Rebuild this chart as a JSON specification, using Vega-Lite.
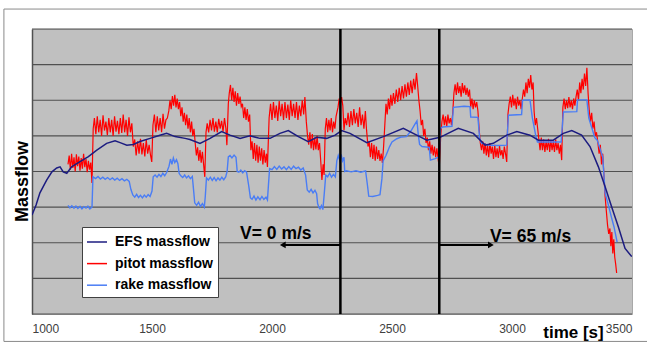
{
  "$schema": "https://vega.github.io/schema/vega-lite/v6.json",
  "width": 600,
  "height": 285,
  "autosize": {"type": "none"},
  "padding": {"left": 32, "top": 29, "right": 15, "bottom": 29},
  "background": "#ffffff",
  "config": {
    "view": {"fill": "#c0c0c0", "stroke": "#a8a8a8", "strokeWidth": 1},
    "font": "Liberation Sans"
  },
  "datasets": {
    "efs": [
      {"t":1000,"m":2.78},{"t":1017,"m":3.06},{"t":1033,"m":3.40},{"t":1061,"m":3.76},{"t":1083,"m":3.99},{"t":1103,"m":4.10},{"t":1117,"m":4.13},{"t":1130,"m":3.99},{"t":1145,"m":3.95},{"t":1165,"m":4.13},{"t":1200,"m":4.28},{"t":1235,"m":4.42},{"t":1270,"m":4.60},{"t":1311,"m":4.79},{"t":1346,"m":4.86},{"t":1367,"m":4.81},{"t":1395,"m":4.74},{"t":1422,"m":4.76},{"t":1450,"m":4.84},{"t":1492,"m":4.93},{"t":1533,"m":5.02},{"t":1561,"m":5.07},{"t":1596,"m":4.98},{"t":1638,"m":4.93},{"t":1658,"m":4.90},{"t":1700,"m":4.79},{"t":1742,"m":4.93},{"t":1790,"m":5.12},{"t":1825,"m":5.02},{"t":1867,"m":4.93},{"t":1908,"m":5.00},{"t":1950,"m":4.93},{"t":1992,"m":4.93},{"t":2033,"m":5.07},{"t":2068,"m":5.15},{"t":2110,"m":4.98},{"t":2151,"m":4.84},{"t":2186,"m":4.96},{"t":2228,"m":4.93},{"t":2263,"m":5.02},{"t":2290,"m":5.15},{"t":2325,"m":5.07},{"t":2395,"m":4.81},{"t":2464,"m":4.98},{"t":2547,"m":5.21},{"t":2603,"m":5.02},{"t":2645,"m":4.88},{"t":2700,"m":4.96},{"t":2776,"m":5.21},{"t":2839,"m":5.07},{"t":2888,"m":4.74},{"t":2922,"m":4.79},{"t":2978,"m":5.02},{"t":3020,"m":5.12},{"t":3075,"m":5.02},{"t":3110,"m":4.88},{"t":3172,"m":4.88},{"t":3214,"m":5.07},{"t":3249,"m":5.15},{"t":3290,"m":5.02},{"t":3325,"m":4.70},{"t":3360,"m":4.13},{"t":3388,"m":3.57},{"t":3415,"m":3.01},{"t":3443,"m":2.45},{"t":3471,"m":1.84},{"t":3499,"m":1.61}
    ],
    "pitot": [
      {"t":1150,"m":4.2},{"t":1155,"m":4.45},{"t":1160,"m":4.05},{"t":1165,"m":4.5},{"t":1170,"m":4.1},{"t":1175,"m":4.4},{"t":1180,"m":4.0},{"t":1185,"m":4.48},{"t":1190,"m":4.15},{"t":1195,"m":4.42},{"t":1200,"m":4.02},{"t":1205,"m":4.38},{"t":1210,"m":4.08},{"t":1215,"m":4.5},{"t":1220,"m":4.12},{"t":1225,"m":4.35},{"t":1230,"m":3.98},{"t":1235,"m":4.3},{"t":1240,"m":4.05},{"t":1245,"m":4.25},{"t":1250,"m":3.68},
      {"t":1255,"m":5.2},{"t":1260,"m":5.5},{"t":1266,"m":5.05},{"t":1272,"m":5.55},{"t":1278,"m":5.1},{"t":1284,"m":5.45},{"t":1290,"m":5.0},{"t":1296,"m":5.58},{"t":1302,"m":5.15},{"t":1308,"m":5.4},{"t":1314,"m":5.02},{"t":1320,"m":5.5},{"t":1326,"m":5.1},{"t":1332,"m":5.45},{"t":1338,"m":5.0},{"t":1344,"m":5.55},{"t":1350,"m":5.12},{"t":1356,"m":5.42},{"t":1362,"m":5.05},{"t":1368,"m":5.5},{"t":1374,"m":5.08},{"t":1380,"m":5.6},{"t":1386,"m":5.1},{"t":1392,"m":5.45},{"t":1398,"m":5.0},{"t":1404,"m":5.52},{"t":1410,"m":5.1},{"t":1416,"m":5.35},
      {"t":1422,"m":4.7},{"t":1428,"m":4.9},{"t":1434,"m":4.45},{"t":1440,"m":4.85},{"t":1446,"m":4.5},{"t":1452,"m":4.92},{"t":1458,"m":4.48},{"t":1464,"m":4.8},{"t":1470,"m":4.42},{"t":1476,"m":4.88},{"t":1482,"m":4.5},{"t":1488,"m":4.75},{"t":1494,"m":4.45},{"t":1499,"m":4.27},
      {"t":1504,"m":5.3},{"t":1510,"m":5.6},{"t":1516,"m":5.1},{"t":1522,"m":5.55},{"t":1528,"m":5.15},{"t":1534,"m":5.5},{"t":1540,"m":5.1},{"t":1546,"m":5.62},{"t":1552,"m":5.2},{"t":1558,"m":5.45},{"t":1564,"m":5.5},
      {"t":1570,"m":5.7},{"t":1575,"m":6.0},{"t":1580,"m":5.75},{"t":1585,"m":6.12},{"t":1590,"m":5.85},{"t":1595,"m":6.15},{"t":1600,"m":5.8},{"t":1605,"m":6.05},{"t":1610,"m":5.75},{"t":1615,"m":5.95},
      {"t":1620,"m":5.55},{"t":1625,"m":5.8},{"t":1630,"m":5.4},{"t":1635,"m":5.65},{"t":1640,"m":5.3},{"t":1645,"m":5.6},{"t":1650,"m":5.2},{"t":1655,"m":5.5},{"t":1660,"m":5.1},{"t":1665,"m":5.4},{"t":1670,"m":5.0},{"t":1675,"m":5.2},
      {"t":1680,"m":4.8},{"t":1685,"m":4.45},{"t":1690,"m":4.68},{"t":1695,"m":4.3},{"t":1700,"m":4.6},{"t":1705,"m":4.25},{"t":1710,"m":4.55},{"t":1715,"m":4.2},{"t":1720,"m":3.85},
      {"t":1725,"m":5.1},{"t":1730,"m":5.35},{"t":1736,"m":5.1},{"t":1742,"m":5.45},{"t":1748,"m":5.15},{"t":1754,"m":5.5},{"t":1760,"m":5.12},{"t":1766,"m":5.4},{"t":1772,"m":5.1},{"t":1778,"m":5.48},{"t":1784,"m":5.2},{"t":1790,"m":5.42},{"t":1796,"m":5.12},{"t":1802,"m":5.5},{"t":1808,"m":5.2},{"t":1812,"m":4.74},
      {"t":1818,"m":5.9},{"t":1822,"m":6.2},{"t":1827,"m":6.43},{"t":1832,"m":6.0},{"t":1837,"m":6.35},{"t":1842,"m":5.95},{"t":1847,"m":6.25},{"t":1852,"m":5.85},{"t":1857,"m":6.2},{"t":1862,"m":5.9},{"t":1867,"m":6.1},{"t":1872,"m":5.82},
      {"t":1877,"m":5.9},{"t":1882,"m":5.5},{"t":1887,"m":5.8},{"t":1892,"m":5.45},{"t":1897,"m":5.75},{"t":1902,"m":5.4},{"t":1907,"m":5.6},
      {"t":1912,"m":4.6},{"t":1917,"m":4.85},{"t":1922,"m":4.35},{"t":1927,"m":4.8},{"t":1932,"m":4.3},{"t":1937,"m":4.75},{"t":1942,"m":4.25},{"t":1947,"m":4.7},{"t":1952,"m":4.3},{"t":1957,"m":4.65},{"t":1962,"m":4.2},{"t":1967,"m":4.6},{"t":1972,"m":4.25},{"t":1977,"m":4.5},{"t":1981,"m":4.13},
      {"t":1988,"m":5.5},{"t":1994,"m":5.9},{"t":2000,"m":5.45},{"t":2006,"m":5.95},{"t":2012,"m":5.5},{"t":2018,"m":5.85},{"t":2024,"m":5.42},{"t":2030,"m":5.98},{"t":2036,"m":5.55},{"t":2042,"m":5.9},{"t":2048,"m":5.45},{"t":2054,"m":5.95},{"t":2060,"m":5.5},{"t":2066,"m":5.88},{"t":2072,"m":5.45},{"t":2078,"m":6.0},{"t":2084,"m":5.55},{"t":2090,"m":5.9},{"t":2096,"m":5.5},{"t":2102,"m":5.95},{"t":2108,"m":5.45},{"t":2114,"m":5.85},{"t":2120,"m":5.55},{"t":2126,"m":6.0},{"t":2132,"m":5.6},{"t":2137,"m":6.09},
      {"t":2143,"m":5.4},{"t":2148,"m":5.0},{"t":2153,"m":4.75},{"t":2158,"m":5.1},{"t":2163,"m":4.65},{"t":2168,"m":5.05},{"t":2173,"m":4.6},{"t":2178,"m":4.95},{"t":2183,"m":4.62},{"t":2188,"m":5.0},{"t":2193,"m":4.6},{"t":2198,"m":4.8},
      {"t":2203,"m":4.3},{"t":2208,"m":3.76},{"t":2213,"m":4.2},{"t":2217,"m":3.9},
      {"t":2222,"m":5.2},{"t":2227,"m":5.5},{"t":2232,"m":5.1},{"t":2237,"m":5.45},{"t":2242,"m":5.15},{"t":2247,"m":5.5},{"t":2252,"m":5.1},{"t":2257,"m":5.4},{"t":2262,"m":5.2},{"t":2267,"m":5.55},
      {"t":2275,"m":5.8},{"t":2280,"m":6.05},{"t":2285,"m":5.9},{"t":2290,"m":6.09},{"t":2295,"m":5.85},{"t":2300,"m":5.16},
      {"t":2305,"m":5.5},{"t":2311,"m":5.3},{"t":2317,"m":5.65},{"t":2323,"m":5.25},{"t":2329,"m":5.7},{"t":2335,"m":5.3},{"t":2341,"m":5.75},{"t":2347,"m":5.35},{"t":2353,"m":5.65},{"t":2359,"m":5.25},{"t":2365,"m":5.8},{"t":2371,"m":5.3},{"t":2377,"m":5.6},{"t":2383,"m":5.2},{"t":2389,"m":5.7},{"t":2394,"m":5.16},
      {"t":2400,"m":4.7},{"t":2405,"m":4.85},{"t":2410,"m":4.4},{"t":2415,"m":4.8},{"t":2420,"m":4.35},{"t":2425,"m":4.75},{"t":2430,"m":4.3},{"t":2435,"m":4.7},{"t":2440,"m":4.35},{"t":2445,"m":4.6},{"t":2450,"m":4.3},{"t":2455,"m":4.5},{"t":2460,"m":4.24},
      {"t":2465,"m":4.7},{"t":2470,"m":5.3},{"t":2475,"m":5.9},{"t":2480,"m":5.6},{"t":2485,"m":6.05},{"t":2490,"m":5.75},{"t":2495,"m":6.15},{"t":2500,"m":5.85},{"t":2506,"m":6.2},{"t":2512,"m":5.9},{"t":2518,"m":6.3},{"t":2524,"m":5.95},{"t":2530,"m":6.35},{"t":2536,"m":6.0},{"t":2542,"m":6.4},{"t":2548,"m":6.05},{"t":2554,"m":6.45},{"t":2560,"m":6.1},{"t":2566,"m":6.5},{"t":2572,"m":6.15},{"t":2578,"m":6.55},{"t":2584,"m":6.2},{"t":2590,"m":6.6},{"t":2596,"m":6.3},{"t":2602,"m":6.76},{"t":2607,"m":6.4},
      {"t":2612,"m":6.0},{"t":2617,"m":5.7},{"t":2622,"m":5.3},{"t":2627,"m":5.45},{"t":2632,"m":5.0},{"t":2637,"m":5.2},{"t":2642,"m":4.8},{"t":2647,"m":4.95},{"t":2652,"m":4.6},{"t":2657,"m":4.85},{"t":2662,"m":4.5},{"t":2667,"m":4.75},{"t":2672,"m":4.45},{"t":2677,"m":4.7},{"t":2682,"m":4.4},{"t":2687,"m":4.65},{"t":2692,"m":4.35},{"t":2697,"m":4.13},
      {"t":2703,"m":5.0},{"t":2708,"m":5.4},{"t":2713,"m":5.6},{"t":2718,"m":5.3},{"t":2723,"m":5.55},{"t":2728,"m":5.25},{"t":2733,"m":5.6},{"t":2738,"m":5.35},{"t":2743,"m":5.5},{"t":2748,"m":5.3},{"t":2753,"m":5.64},
      {"t":2758,"m":6.2},{"t":2763,"m":6.45},{"t":2768,"m":6.15},{"t":2773,"m":6.5},{"t":2778,"m":6.2},{"t":2783,"m":6.4},{"t":2788,"m":6.1},{"t":2793,"m":6.48},{"t":2798,"m":6.2},{"t":2803,"m":6.42},{"t":2808,"m":6.15},{"t":2813,"m":6.35},{"t":2818,"m":6.1},{"t":2823,"m":6.3},
      {"t":2828,"m":5.8},{"t":2833,"m":6.05},{"t":2838,"m":5.75},{"t":2843,"m":6.0},{"t":2848,"m":5.8},{"t":2853,"m":5.95},{"t":2858,"m":5.7},
      {"t":2863,"m":5.2},{"t":2868,"m":4.8},{"t":2873,"m":4.6},{"t":2878,"m":4.85},{"t":2883,"m":4.5},
      {"t":2888,"m":4.8},{"t":2893,"m":4.45},{"t":2898,"m":4.75},{"t":2903,"m":4.4},{"t":2908,"m":4.8},{"t":2913,"m":4.5},{"t":2918,"m":4.7},{"t":2923,"m":4.35},{"t":2928,"m":4.75},{"t":2933,"m":4.4},{"t":2938,"m":4.65},{"t":2943,"m":4.38},{"t":2948,"m":4.72},{"t":2953,"m":4.45},{"t":2958,"m":4.6},{"t":2963,"m":4.35},{"t":2968,"m":4.7},{"t":2973,"m":4.5},{"t":2978,"m":4.27},
      {"t":2983,"m":5.6},{"t":2988,"m":5.9},{"t":2993,"m":6.1},{"t":2998,"m":5.8},{"t":3003,"m":6.15},{"t":3008,"m":5.85},{"t":3013,"m":6.05},{"t":3018,"m":5.75},{"t":3023,"m":6.1},{"t":3028,"m":5.85},{"t":3033,"m":6.0},{"t":3038,"m":5.75},{"t":3043,"m":6.05},
      {"t":3048,"m":6.3},{"t":3053,"m":6.1},{"t":3058,"m":6.5},{"t":3063,"m":6.2},{"t":3068,"m":6.6},{"t":3073,"m":6.35},{"t":3078,"m":6.71},{"t":3083,"m":6.3},{"t":3088,"m":6.5},
      {"t":3092,"m":5.7},{"t":3097,"m":5.3},{"t":3102,"m":5.5},{"t":3107,"m":5.2},
      {"t":3112,"m":4.9},{"t":3117,"m":4.6},{"t":3122,"m":4.95},{"t":3127,"m":4.6},{"t":3132,"m":4.9},{"t":3137,"m":4.55},{"t":3142,"m":4.85},{"t":3147,"m":4.6},{"t":3152,"m":4.92},{"t":3157,"m":4.55},{"t":3162,"m":4.88},{"t":3167,"m":4.6},{"t":3172,"m":4.85},{"t":3177,"m":4.55},{"t":3182,"m":4.9},{"t":3187,"m":4.6},{"t":3192,"m":4.8},{"t":3197,"m":4.5},{"t":3202,"m":4.75},{"t":3207,"m":4.32},
      {"t":3212,"m":5.8},{"t":3217,"m":6.05},{"t":3222,"m":5.75},{"t":3227,"m":6.0},{"t":3232,"m":5.78},{"t":3237,"m":6.09},{"t":3242,"m":5.8},{"t":3247,"m":6.0},{"t":3252,"m":5.75},{"t":3257,"m":6.05},{"t":3262,"m":5.85},{"t":3267,"m":6.1},
      {"t":3272,"m":6.3},{"t":3277,"m":6.0},{"t":3282,"m":6.5},{"t":3287,"m":6.2},{"t":3292,"m":6.6},{"t":3297,"m":6.3},{"t":3302,"m":6.75},{"t":3307,"m":6.4},{"t":3312,"m":6.91},
      {"t":3317,"m":6.2},{"t":3322,"m":5.7},{"t":3327,"m":5.4},{"t":3332,"m":5.65},{"t":3337,"m":5.2},{"t":3342,"m":5.4},{"t":3347,"m":5.0},{"t":3352,"m":5.1},
      {"t":3358,"m":4.8},{"t":3363,"m":4.5},{"t":3368,"m":4.75},{"t":3373,"m":4.2},{"t":3378,"m":4.5},
      {"t":3383,"m":3.9},{"t":3388,"m":3.3},{"t":3393,"m":2.9},{"t":3398,"m":2.5},{"t":3403,"m":2.25},{"t":3408,"m":2.4},
      {"t":3412,"m":1.9},{"t":3416,"m":2.3},{"t":3420,"m":1.7},{"t":3424,"m":2.1},{"t":3428,"m":1.6},{"t":3432,"m":1.4},{"t":3436,"m":1.15}
    ],
    "rake": [
      {"t":1150,"m":3.05},{"t":1158,"m":2.98},{"t":1166,"m":3.04},{"t":1175,"m":2.97},{"t":1183,"m":3.03},{"t":1191,"m":2.96},{"t":1200,"m":3.02},{"t":1208,"m":2.95},{"t":1216,"m":3.01},{"t":1225,"m":2.97},{"t":1233,"m":3.03},{"t":1241,"m":2.95},{"t":1250,"m":3.0},{"t":1254,"m":3.85},{"t":1265,"m":3.80},{"t":1275,"m":3.86},{"t":1285,"m":3.79},{"t":1295,"m":3.84},{"t":1305,"m":3.78},{"t":1315,"m":3.83},{"t":1325,"m":3.77},{"t":1335,"m":3.82},{"t":1345,"m":3.76},{"t":1355,"m":3.81},{"t":1365,"m":3.75},{"t":1375,"m":3.80},{"t":1385,"m":3.74},{"t":1395,"m":3.78},{"t":1405,"m":3.72},{"t":1412,"m":3.5},{"t":1420,"m":3.34},{"t":1428,"m":3.28},{"t":1436,"m":3.36},{"t":1444,"m":3.27},{"t":1452,"m":3.33},{"t":1460,"m":3.26},{"t":1468,"m":3.34},{"t":1476,"m":3.28},{"t":1484,"m":3.35},{"t":1492,"m":3.30},{"t":1500,"m":3.45},{"t":1505,"m":3.85},{"t":1513,"m":3.90},{"t":1521,"m":3.84},{"t":1529,"m":3.92},{"t":1537,"m":3.86},{"t":1545,"m":3.95},{"t":1553,"m":3.88},{"t":1561,"m":3.97},{"t":1571,"m":4.15},{"t":1577,"m":4.35},{"t":1583,"m":4.20},{"t":1589,"m":4.38},{"t":1595,"m":4.25},{"t":1602,"m":4.33},{"t":1608,"m":4.22},{"t":1613,"m":3.95},{"t":1620,"m":3.88},{"t":1628,"m":3.83},{"t":1636,"m":3.90},{"t":1644,"m":3.82},{"t":1652,"m":3.88},{"t":1660,"m":3.80},{"t":1668,"m":3.86},{"t":1673,"m":3.5},{"t":1678,"m":3.12},{"t":1686,"m":3.05},{"t":1694,"m":3.14},{"t":1702,"m":3.02},{"t":1710,"m":3.10},{"t":1718,"m":3.00},{"t":1722,"m":3.3},{"t":1727,"m":3.82},{"t":1735,"m":3.76},{"t":1743,"m":3.84},{"t":1751,"m":3.75},{"t":1759,"m":3.83},{"t":1767,"m":3.74},{"t":1775,"m":3.82},{"t":1783,"m":3.76},{"t":1791,"m":3.84},{"t":1799,"m":3.77},{"t":1807,"m":3.85},{"t":1813,"m":4.0},{"t":1818,"m":4.41},{"t":1825,"m":4.45},{"t":1833,"m":4.38},{"t":1842,"m":4.46},{"t":1850,"m":4.40},{"t":1855,"m":4.0},{"t":1862,"m":3.98},{"t":1870,"m":4.04},{"t":1878,"m":3.96},{"t":1886,"m":4.02},{"t":1894,"m":3.98},{"t":1903,"m":3.6},{"t":1910,"m":3.26},{"t":1917,"m":3.22},{"t":1925,"m":3.31},{"t":1933,"m":3.20},{"t":1941,"m":3.29},{"t":1950,"m":3.21},{"t":1958,"m":3.30},{"t":1966,"m":3.22},{"t":1975,"m":3.28},{"t":1981,"m":3.20},{"t":1985,"m":3.6},{"t":1990,"m":4.08},{"t":2000,"m":4.05},{"t":2010,"m":4.14},{"t":2020,"m":4.06},{"t":2030,"m":4.15},{"t":2040,"m":4.07},{"t":2050,"m":4.13},{"t":2060,"m":4.05},{"t":2070,"m":4.14},{"t":2080,"m":4.06},{"t":2090,"m":4.15},{"t":2100,"m":4.08},{"t":2110,"m":4.12},{"t":2120,"m":4.04},{"t":2130,"m":4.10},{"t":2140,"m":3.9},{"t":2147,"m":3.48},{"t":2155,"m":3.42},{"t":2163,"m":3.50},{"t":2171,"m":3.40},{"t":2179,"m":3.47},{"t":2186,"m":3.38},{"t":2190,"m":3.1},{"t":2195,"m":3.0},{"t":2200,"m":2.95},{"t":2206,"m":3.04},{"t":2212,"m":2.93},{"t":2218,"m":3.4},{"t":2224,"m":3.9},{"t":2232,"m":3.85},{"t":2240,"m":3.95},{"t":2248,"m":3.84},{"t":2256,"m":3.92},{"t":2264,"m":3.85},{"t":2270,"m":4.3},{"t":2276,"m":4.45},{"t":2282,"m":4.32},{"t":2288,"m":4.48},{"t":2294,"m":4.30},{"t":2300,"m":4.4},{"t":2303,"m":4.0},{"t":2310,"m":4.02},{"t":2330,"m":3.99},{"t":2350,"m":4.02},{"t":2370,"m":3.98},{"t":2390,"m":4.02},{"t":2398,"m":3.6},{"t":2403,"m":3.31},{"t":2420,"m":3.30},{"t":2440,"m":3.33},{"t":2450,"m":3.35},{"t":2458,"m":3.8},{"t":2463,"m":4.30},{"t":2475,"m":4.45},{"t":2490,"m":4.70},{"t":2500,"m":4.83},{"t":2520,"m":4.92},{"t":2540,"m":4.97},{"t":2560,"m":4.98},{"t":2580,"m":5.15},{"t":2595,"m":5.32},{"t":2604,"m":5.42},{"t":2610,"m":5.0},{"t":2615,"m":4.76},{"t":2625,"m":4.70},{"t":2655,"m":4.68},{"t":2660,"m":4.32},{"t":2680,"m":4.36},{"t":2697,"m":4.41},{"t":2702,"m":5.2},{"t":2710,"m":5.25},{"t":2750,"m":5.27},{"t":2756,"m":5.8},{"t":2800,"m":5.83},{"t":2825,"m":5.82},{"t":2828,"m":5.53},{"t":2858,"m":5.52},{"t":2865,"m":4.94},{"t":2872,"m":4.80},{"t":2900,"m":4.74},{"t":2940,"m":4.73},{"t":2978,"m":4.74},{"t":2985,"m":5.58},{"t":3040,"m":5.60},{"t":3044,"m":6.0},{"t":3075,"m":6.01},{"t":3085,"m":5.5},{"t":3100,"m":4.97},{"t":3106,"m":4.83},{"t":3205,"m":4.83},{"t":3214,"m":5.67},{"t":3270,"m":5.68},{"t":3273,"m":6.01},{"t":3312,"m":6.01},{"t":3320,"m":5.5},{"t":3345,"m":4.95},{"t":3355,"m":4.88},{"t":3378,"m":4.41},{"t":3388,"m":3.4},{"t":3400,"m":3.10},{"t":3415,"m":2.70},{"t":3425,"m":2.45},{"t":3438,"m":2.02}
    ],
    "grid": [{"m":0},{"m":1},{"m":2},{"m":3},{"m":4},{"m":5},{"m":6},{"m":7},{"m":8}],
    "switches": [{"t":2285},{"t":2697}],
    "arrows": [
      {"t":2285,"t2":2045,"m":1.94,"head":"triangle-left"},
      {"t":2697,"t2":2912,"m":1.94,"head":"triangle-right"}
    ],
    "notes": [
      {"t":1867,"m":2.24,"label":"V= 0 m/s"},
      {"t":2908,"m":2.16,"label":"V= 65 m/s"}
    ]
  },
  "layer": [
    {
      "data": {"name": "grid"},
      "mark": {"type": "rule", "color": "#505050", "strokeWidth": 1.2},
      "encoding": {
        "y": {"field": "m", "type": "quantitative",
          "scale": {"domain": [0, 8], "nice": false},
          "axis": {"labels": false, "ticks": false, "grid": false,
            "domain": true, "domainColor": "#505050", "domainWidth": 1.5,
            "title": "Massflow", "titleFont": "Liberation Sans", "titleFontSize": 18, "titleFontWeight": "bold", "titleColor": "#000000",
            "titleAngle": -90, "titleX": -10, "titleY": 152, "titleAlign": "center", "titleBaseline": "middle"}}
      }
    },
    {
      "data": {"name": "pitot"},
      "mark": {"type": "line", "strokeWidth": 1.2, "clip": true},
      "encoding": {
        "x": {"field": "t", "type": "quantitative",
          "scale": {"domain": [1000, 3500], "nice": false, "zero": false},
          "axis": {"values": [1000, 1500, 2000, 2500, 3000, 3500], "format": "d", "ticks": false, "domain": false, "grid": false,
            "labelFont": "Liberation Sans", "labelFontSize": 12, "labelColor": "#404040", "labelPadding": 9,
            "title": "time [s]", "titleFont": "Liberation Sans", "titleFontSize": 17, "titleFontWeight": "bold", "titleColor": "#000000",
            "titleX": 541, "titleY": 18, "titleAlign": "center", "titleBaseline": "middle"}},
        "y": {"field": "m", "type": "quantitative"},
        "color": {"datum": "pitot massflow", "type": "nominal",
          "scale": {"domain": ["EFS massflow", "pitot massflow", "rake massflow"], "range": ["#1c1c80", "#ff0000", "#4a7df5"]},
          "legend": {"title": null, "orient": "none", "legendX": 50, "legendY": 198,
            "fillColor": "#ffffff", "strokeColor": "#404040", "padding": 4,
            "symbolType": "stroke", "symbolSize": 400, "symbolStrokeWidth": 1.5,
            "labelFont": "Liberation Sans", "labelFontSize": 14, "labelFontWeight": "bold", "labelColor": "#000000",
            "labelOffset": 7, "rowPadding": 3.6}}
      }
    },
    {
      "data": {"name": "rake"},
      "mark": {"type": "line", "strokeWidth": 1.4, "clip": true},
      "encoding": {
        "x": {"field": "t", "type": "quantitative"},
        "y": {"field": "m", "type": "quantitative"},
        "color": {"datum": "rake massflow", "type": "nominal"}
      }
    },
    {
      "data": {"name": "efs"},
      "mark": {"type": "line", "strokeWidth": 1.5, "clip": true},
      "encoding": {
        "x": {"field": "t", "type": "quantitative"},
        "y": {"field": "m", "type": "quantitative"},
        "color": {"datum": "EFS massflow", "type": "nominal"}
      }
    },
    {
      "data": {"name": "switches"},
      "mark": {"type": "rule", "color": "#000000", "strokeWidth": 2.5},
      "encoding": {
        "x": {"field": "t", "type": "quantitative"}
      }
    },
    {
      "data": {"name": "arrows"},
      "mark": {"type": "rule", "color": "#000000", "strokeWidth": 2},
      "encoding": {
        "x": {"field": "t", "type": "quantitative"},
        "x2": {"field": "t2"},
        "y": {"field": "m", "type": "quantitative"}
      }
    },
    {
      "data": {"name": "arrows"},
      "mark": {"type": "point", "filled": true, "color": "#000000", "opacity": 1, "size": 45},
      "encoding": {
        "x": {"field": "t2", "type": "quantitative"},
        "y": {"field": "m", "type": "quantitative"},
        "shape": {"field": "head", "type": "nominal", "scale": null, "legend": null}
      }
    },
    {
      "data": {"name": "notes"},
      "mark": {"type": "text", "align": "left", "baseline": "middle", "font": "Liberation Sans", "fontWeight": "bold", "fontSize": 17.5, "color": "#000000"},
      "encoding": {
        "x": {"field": "t", "type": "quantitative"},
        "y": {"field": "m", "type": "quantitative"},
        "text": {"field": "label"}
      }
    },
    {
      "data": {"values": [{}]},
      "mark": {"type": "rect", "fill": null, "stroke": "#8a8a8a", "strokeWidth": 1, "clip": false},
      "encoding": {
        "x": {"datum": 883},
        "x2": {"datum": 3580},
        "y": {"datum": 8.56},
        "y2": {"datum": -0.77}
      }
    }
  ]
}
